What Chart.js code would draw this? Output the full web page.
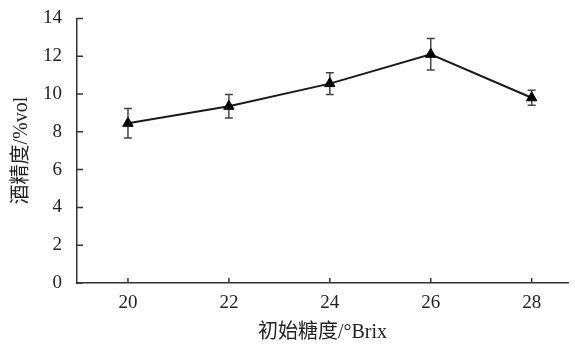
<!DOCTYPE html>
<html>
<head>
<meta charset="utf-8">
<script src="https://cdn.jsdelivr.net/npm/chart.js@4"></script>
<style>
  html, body { margin: 0; padding: 0; background: #fff; }
  #wrap { width: 575px; height: 345px; }
</style>
</head>
<body>
<div id="wrap"><canvas id="chart"></canvas></div>
<script>
// initial sugar (°Brix) vs alcohol (%vol)
var sugar = [20, 22, 24, 26, 28];
var alcohol = [8.45, 9.35, 10.55, 12.1, 9.8];
var alcoholErr = [0.78, 0.62, 0.58, 0.83, 0.4];
var xTicks = [20, 22, 24, 26, 28];
var yTicks = [0, 2, 4, 6, 8, 10, 12, 14];

var fontFamily = '"Liberation Serif", "Noto Sans CJK SC", serif';

// error bars, drawn under the markers
var errorBars = {
    id: 'errorBars',
    beforeDatasetsDraw: function (chart) {
        var ctx = chart.ctx;
        var xs = chart.scales.x, ys = chart.scales.y;
        ctx.save();
        ctx.strokeStyle = '#444';
        ctx.lineWidth = 1.5;
        for (var i = 0; i < sugar.length; i++) {
            var px = xs.getPixelForValue(sugar[i]);
            var top = ys.getPixelForValue(alcohol[i] + alcoholErr[i]);
            var bot = ys.getPixelForValue(alcohol[i] - alcoholErr[i]);
            ctx.beginPath();
            ctx.moveTo(px, top); ctx.lineTo(px, bot);
            ctx.moveTo(px - 4, top); ctx.lineTo(px + 4, top);
            ctx.moveTo(px - 4, bot); ctx.lineTo(px + 4, bot);
            ctx.stroke();
        }
        ctx.restore();
    }
};

// inward tick marks
var innerTicks = {
    id: 'innerTicks',
    afterDraw: function (chart) {
        var ctx = chart.ctx;
        var xs = chart.scales.x, ys = chart.scales.y;
        var area = chart.chartArea;
        ctx.save();
        ctx.strokeStyle = '#333';
        ctx.lineWidth = 1.5;
        ctx.beginPath();
        yTicks.forEach(function (v) {
            var py = ys.getPixelForValue(v);
            ctx.moveTo(area.left, py); ctx.lineTo(area.left + 6, py);
        });
        xTicks.forEach(function (v) {
            var px = xs.getPixelForValue(v);
            ctx.moveTo(px, area.bottom); ctx.lineTo(px, area.bottom - 5);
        });
        ctx.stroke();
        ctx.restore();
    }
};

var ctx = document.getElementById('chart').getContext('2d');
var chart = new Chart(ctx, {
    type: 'line',
    data: {
        datasets: [{
            data: sugar.map(function (s, i) { return { x: s, y: alcohol[i] }; }),
            borderColor: '#1a1a1a',
            borderWidth: 2,
            pointStyle: 'triangle',
            pointRadius: 6,
            pointBackgroundColor: '#000',
            pointBorderColor: '#000',
            pointBorderWidth: 1,
            tension: 0
        }]
    },
    options: {
        responsive: true,
        maintainAspectRatio: false,
        animation: false,
        layout: { padding: { top: 17, right: 0, left: 0, bottom: 0 } },
        plugins: {
            legend: { display: false },
            tooltip: { enabled: false }
        },
        scales: {
            x: {
                type: 'linear',
                min: 18.99,
                max: 28.72,
                afterBuildTicks: function (scale) {
                    scale.ticks = xTicks.map(function (v) { return { value: v }; });
                },
                afterFit: function (scale) { scale.height = 62; },
                grid: { display: false },
                border: { display: true, color: '#333', width: 1.5 },
                ticks: {
                    padding: 1,
                    color: '#222',
                    font: { family: fontFamily, size: 19 }
                },
                title: {
                    display: true,
                    text: '初始糖度/°Brix',
                    color: '#222',
                    padding: { top: 0, bottom: 0 },
                    font: { family: fontFamily, size: 20 }
                }
            },
            y: {
                min: 0,
                max: 14,
                afterBuildTicks: function (scale) {
                    scale.ticks = yTicks.map(function (v) { return { value: v }; });
                },
                afterFit: function (scale) { scale.width = 77; },
                grid: { display: false },
                border: { display: true, color: '#333', width: 1.5 },
                ticks: {
                    padding: 7,
                    color: '#222',
                    font: { family: fontFamily, size: 19 }
                },
                title: {
                    display: true,
                    text: '酒精度/%vol',
                    color: '#222',
                    padding: { top: 10, bottom: 0 },
                    font: { family: fontFamily, size: 20 }
                }
            }
        }
    },
    plugins: [errorBars, innerTicks]
});
</script>
</body>
</html>
